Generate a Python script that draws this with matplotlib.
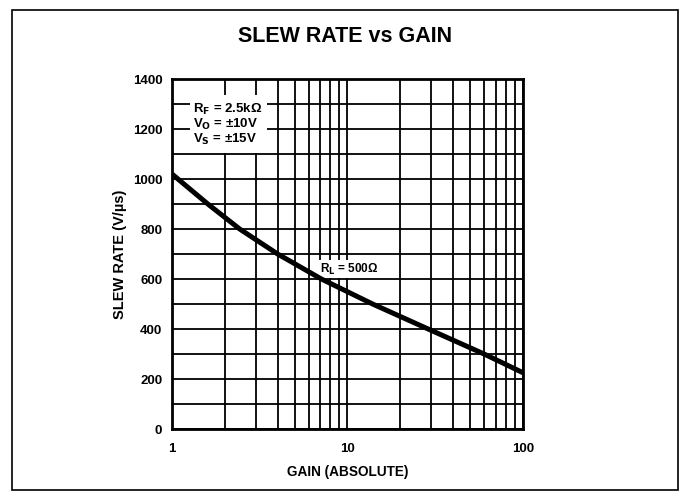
import matplotlib
matplotlib.use("Agg")
import matplotlib.pyplot as plt
from matplotlib.ticker import FixedLocator, MultipleLocator, LogLocator, NullFormatter
from matplotlib.patches import Rectangle

plt.rcParams['font.family'] = ['Liberation Sans', 'DejaVu Sans']
plt.rcParams['font.weight'] = 'bold'
plt.rcParams['mathtext.default'] = 'bf'

# Slew rate of the amplifier versus closed-loop gain (RL = 500 ohm)
gain = [1, 1.6, 2.43, 4.0, 7.1, 13.9, 28.8, 60, 100]
slew_rate = [1020, 900, 800, 700, 600, 500, 400, 300, 225]

y_ticks = [0, 200, 400, 600, 800, 1000, 1200, 1400]
x_ticks = [1, 10, 100]
x_tick_labels = ['1', '10', '100']

conditions = "R$_{F}$ = 2.5kΩ\nV$_{O}$ = ±10V\nV$_{S}$ = ±15V"
curve_label = "R$_{L}$ = 500Ω"

fig = plt.figure(figsize=(6.89, 5.0), dpi=100)
ax = fig.add_axes([0.2496, 0.142, 0.5095, 0.700])

ax.plot(gain, slew_rate, color='black', lw=3.6, solid_capstyle='butt', zorder=5)

ax.set_xscale('log')
ax.set_xlim(1, 100)
ax.set_ylim(0, 1400)
ax.xaxis.set_major_locator(FixedLocator(x_ticks))
ax.set_xticklabels(x_tick_labels)
ax.xaxis.set_minor_locator(LogLocator(base=10, subs=range(2, 10)))
ax.xaxis.set_minor_formatter(NullFormatter())
ax.yaxis.set_major_locator(FixedLocator(y_ticks))
ax.yaxis.set_minor_locator(MultipleLocator(100))

ax.grid(True, which='both', color='black', lw=1.3)
ax.set_axisbelow(True)
ax.tick_params(which='both', length=0, labelsize=9.5)
ax.tick_params(axis='y', pad=7)
ax.tick_params(axis='x', pad=10)
for lbl in ax.get_xticklabels() + ax.get_yticklabels():
    lbl.set_fontweight('bold')
for s in ax.spines.values():
    s.set_linewidth(2.0)

ax.set_xlabel('GAIN (ABSOLUTE)', fontsize=9.8, fontweight='bold', labelpad=7)
ax.set_ylabel('SLEW RATE (V/µs)', fontsize=10.5, fontweight='bold', labelpad=4)

# white panel behind the operating conditions
ax.add_patch(Rectangle((1.27, 1105), 3.5 - 1.27, 230, facecolor='white',
                       edgecolor='none', zorder=3))
ax.text(1.32, 1308, conditions, fontsize=9.5, fontweight='bold', va='top',
        ha='left', linespacing=1.0, zorder=6)

ax.text(7.0, 640, curve_label, fontsize=8.5, fontweight='bold', va='center',
        ha='left', zorder=4,
        bbox=dict(facecolor='white', edgecolor='none', pad=1.0))

fig.text(0.501, 0.928, 'SLEW RATE vs GAIN', fontsize=15.5, fontweight='bold',
         ha='center', va='center')

# outer border around the whole graph
fig.patches.append(Rectangle((12 / 689, 10 / 500), (678 - 12) / 689, (490 - 10) / 500,
                             transform=fig.transFigure, fill=False,
                             edgecolor='black', lw=1.2))

fig.savefig('out.png', dpi=100)
